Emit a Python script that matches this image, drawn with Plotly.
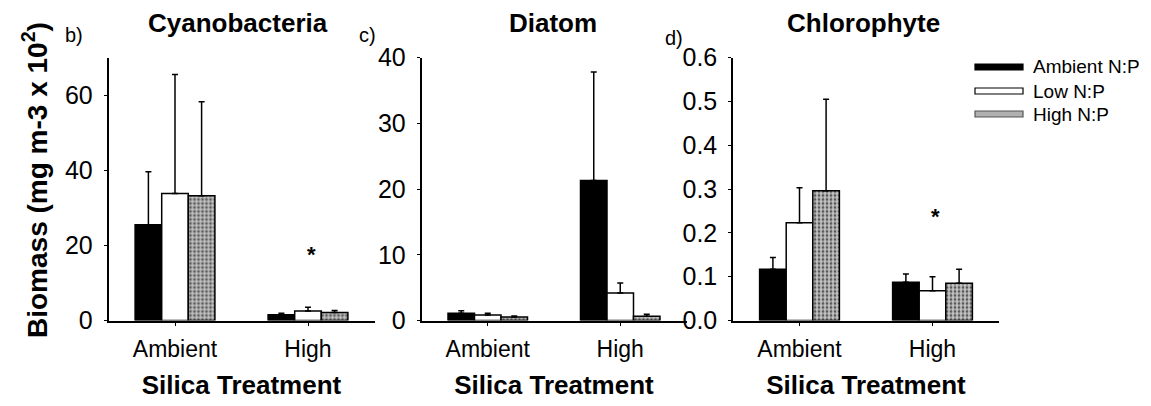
import plotly.graph_objects as go
from plotly.subplots import make_subplots

# ---------------- data ----------------
categories = ["Ambient", "High"]
series_names = ["Ambient N:P", "Low N:P", "High N:P"]
panel_titles = ["Cyanobacteria", "Diatom", "Chlorophyte"]
panel_letters = ["b)", "c)", "d)"]

cyano_mean = [[25.5, 1.5], [33.8, 2.5], [33.2, 2.1]]
cyano_se = [[14.1, 0.45], [31.7, 1.05], [25.0, 0.55]]

diatom_mean = [[1.1, 21.3], [0.85, 4.2], [0.55, 0.65]]
diatom_se = [[0.4, 16.5], [0.25, 1.5], [0.15, 0.3]]

chloro_mean = [[0.117, 0.087], [0.223, 0.068], [0.296, 0.085]]
chloro_se = [[0.027, 0.019], [0.080, 0.032], [0.209, 0.032]]

# significance asterisks (panel index, category, y value)
asterisks = [(0, "High", 17.7), (2, "High", 0.237)]

y_ranges = [[0, 70], [0, 40], [0, 0.6]]
y_dticks = [20, 10, 0.1]
y_formats = ["d", "d", ".1f"]

# ---------------- styling ----------------
W, H = 1151, 406
FONT = "Liberation Sans, Arial, Helvetica, sans-serif"
fills = ["#000000", "#ffffff", "#b8b8b8"]
x_domains_px = [(108.5, 374.5), (421.5, 686.5), (733, 999)]
y_top_px, y_bot_px = 57.5, 320.5

fig = make_subplots(rows=1, cols=3)

panels = [(cyano_mean, cyano_se), (diatom_mean, diatom_se), (chloro_mean, chloro_se)]
for p, (means, ses) in enumerate(panels):
    for s, name in enumerate(series_names):
        marker = dict(color=fills[s], line=dict(color="black", width=1.5))
        if s == 2:
            marker["pattern"] = dict(shape=".", fgcolor="#5a5a5a", bgcolor="#c4c4c4",
                                     size=4, solidity=0.4, fillmode="replace")
        fig.add_trace(
            go.Bar(
                x=categories, y=means[s], name=name, marker=marker,
                showlegend=False,
                error_y=dict(type="data", symmetric=False, array=ses[s],
                             arrayminus=[0] * len(ses[s]), color="black",
                             thickness=1.5, width=3),
            ),
            row=1, col=p + 1,
        )

for p in range(3):
    xa = "xaxis" if p == 0 else f"xaxis{p+1}"
    ya = "yaxis" if p == 0 else f"yaxis{p+1}"
    x0, x1 = x_domains_px[p]
    fig.layout[xa].update(
        domain=[x0 / W, x1 / W], range=[-0.5, 1.5], showline=True, linecolor="black",
        linewidth=1.5, ticks="outside", ticklen=4, tickcolor="black", tickwidth=1.2,
        tickfont=dict(family=FONT, size=23, color="black"), ticklabelstandoff=3,
        showgrid=False, zeroline=False, automargin=False, fixedrange=True,
        title=dict(text="<b>Silica Treatment</b>", standoff=15,
                   font=dict(family=FONT, size=26, color="black")),
    )
    fig.layout[ya].update(
        domain=[1 - y_bot_px / H, 1 - y_top_px / H], range=y_ranges[p], dtick=y_dticks[p],
        tick0=0, tickformat=y_formats[p], showline=True, linecolor="black", linewidth=1.5,
        ticks="outside", ticklen=3, tickcolor="black", tickwidth=1.2,
        tickfont=dict(family=FONT, size=25, color="black"), ticklabelstandoff=6,
        showgrid=False, zeroline=False, automargin=False, fixedrange=True,
    )

annotations = []
title_x_px = [238, 553, 863]
letter_x_px = [63, 357, 663]
letter_y_px = [35, 35, 38]
for p in range(3):
    annotations.append(dict(
        text=f"<b>{panel_titles[p]}</b>", x=title_x_px[p] / W, y=1 - 23 / H,
        xref="paper", yref="paper", showarrow=False, xanchor="center", yanchor="middle",
        font=dict(family=FONT, size=26, color="black")))
    annotations.append(dict(
        text=panel_letters[p], x=letter_x_px[p] / W, y=1 - letter_y_px[p] / H,
        xref="paper", yref="paper", showarrow=False, xanchor="left", yanchor="middle",
        font=dict(family=FONT, size=20, color="black")))

for p, cat, yv in asterisks:
    xr = "x" if p == 0 else f"x{p+1}"
    yr = "y" if p == 0 else f"y{p+1}"
    annotations.append(dict(
        text="<b>*</b>", x=cat, y=yv, xref=xr, yref=yr, showarrow=False, xshift=3,
        font=dict(family=FONT, size=22, color="black"), yanchor="middle"))

annotations.append(dict(
    text="<b>Biomass (mg m-3 x 10<sup>2</sup>)</b>", x=35 / W, y=1 - 180 / H,
    xref="paper", yref="paper", showarrow=False, textangle=-90,
    xanchor="center", yanchor="middle",
    font=dict(family=FONT, size=28, color="black")))

# legend (drawn manually to mimic long bar swatches)
legend_rows_px = [67, 91, 114]
shapes = []
for s, name in enumerate(series_names):
    yc = legend_rows_px[s]
    shapes.append(dict(
        type="rect", xref="paper", yref="paper",
        x0=975 / W, x1=1023 / W, y0=1 - (yc + 3) / H, y1=1 - (yc - 3) / H,
        fillcolor=fills[s] if s < 2 else "#b0b0b0",
        line=dict(color="black" if s < 2 else "#555555", width=1.2)))
    annotations.append(dict(
        text=name, x=1031 / W, y=1 - yc / H, xref="paper", yref="paper",
        showarrow=False, xanchor="left", yanchor="middle",
        font=dict(family=FONT, size=19, color="black")))

fig.update_layout(
    width=W, height=H, margin=dict(l=0, r=0, t=0, b=0),
    paper_bgcolor="white", plot_bgcolor="white",
    barmode="group", bargap=0.4, bargroupgap=0,
    annotations=annotations, shapes=shapes, showlegend=False,
    font=dict(family=FONT, color="black"),
)

fig.write_html("out.html", config={"displayModeBar": False})
